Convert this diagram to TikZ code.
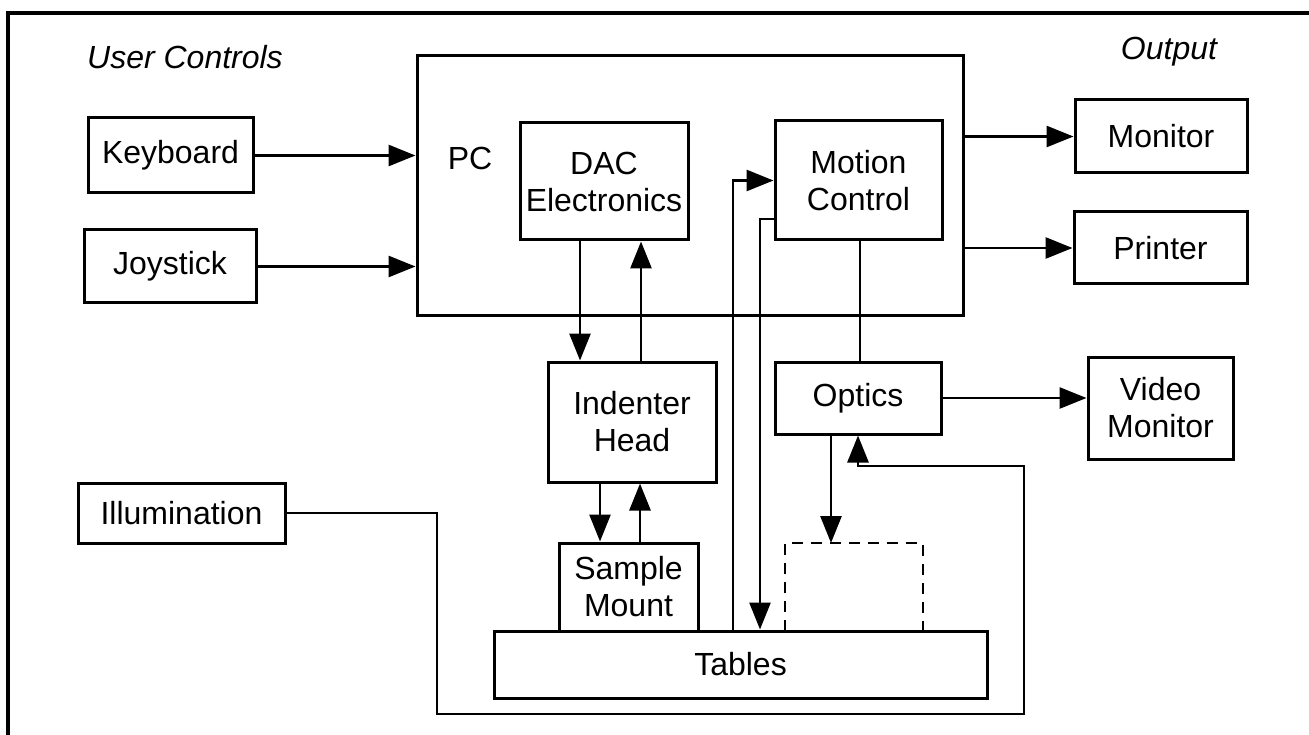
\documentclass[tikz,border=0pt]{standalone}
\usepackage{fontspec}
\setmainfont{Liberation Sans}
\usetikzlibrary{arrows.meta}
\newcommand\dfont{\fontsize{32}{37}\selectfont}
\tikzset{
  box/.style={draw, line width=3pt, inner sep=0pt, align=center, font=\dfont},
  arr/.style={line width=2.8pt, -{Triangle[length=27pt,width=21pt]}},
  ln/.style={line width=2.8pt},
  lbl/.style={font=\dfont\itshape, inner sep=0pt},
  plain/.style={font=\dfont, inner sep=0pt},
}
\begin{document}
\begin{tikzpicture}[x=1pt,y=-1pt]
\useasboundingbox (0,0) rectangle (1309,735);
% frame
\draw[line width=3.2pt] (8,735) -- (8,13) -- (1309,13);
% headings
\node[lbl] (uc) at (185,57) {User Controls};
\node[lbl] (out) at (1169,52) {Output};
% boxes
\node[box, minimum width=165pt, minimum height=75pt] (kb) at (170.5,155.5) {Keyboard};
\node[box, minimum width=172pt, minimum height=73pt] (js) at (170,266.5) {Joystick};
\node[box, minimum width=546pt, minimum height=260pt] (pc) at (690,186) {};
\node[plain] (pclabel) at (470,158) {PC};
\node[box, minimum width=168pt, minimum height=117pt] (dac) at (604,181.5) {DAC\\Electronics};
\node[box, minimum width=167pt, minimum height=119pt] (mc) at (858.5,180.5) {Motion\\Control};
\node[box, minimum width=172pt, minimum height=73pt] (mon) at (1161,136.5) {Monitor};
\node[box, minimum width=173pt, minimum height=72pt] (prn) at (1160.5,248) {Printer};
\node[box, minimum width=145pt, minimum height=102pt] (vmon) at (1160.5,408) {Video\\Monitor};
\node[box, minimum width=168pt, minimum height=120pt] (ih) at (632,422) {Indenter\\Head};
\node[box, minimum width=166pt, minimum height=72pt] (opt) at (858,398) {Optics};
\node[box, minimum width=139pt, minimum height=88pt] (sm) at (628.5,587) {Sample\\Mount};
\node[box, minimum width=493pt, minimum height=67pt] (tab) at (740.5,664.5) {Tables};
\node[box, minimum width=207pt, minimum height=60pt] (ill) at (181.5,513) {Illumination};
% dashed open box on the tables
\draw[ln, dash pattern=on 11pt off 8pt] (785,631) -- (785,543) -- (923,543) -- (923,631);
\coordinate (dtop) at (831,543);
% lane coordinates
\coordinate (xa) at (580,0);
\coordinate (xb) at (641,0);
\coordinate (xc) at (733,0);
\coordinate (xd) at (760,0);
\coordinate (xe) at (860,0);
\coordinate (xf) at (831,0);
\coordinate (xg) at (858,0);
\coordinate (xh) at (1024,0);
\coordinate (xi) at (437,0);
\coordinate (xj) at (600,0);
\coordinate (xk) at (640,0);
\coordinate (yb) at (0,219);
\coordinate (yc) at (0,466);
\coordinate (yd) at (0,714);
% connectors
\draw[arr] (kb.east) -- (kb.east -| pc.west);
\draw[arr] (js.east) -- (js.east -| pc.west);
\draw[arr] (pc.east |- mon.west) -- (mon.west);
\draw[arr] (pc.east |- prn.west) -- (prn.west);
\draw[arr] (opt.east) -- (opt.east -| vmon.west);
\draw[arr] (dac.south -| xa) -- (ih.north -| xa);
\draw[arr] (ih.north -| xb) -- (dac.south -| xb);
\draw[arr] (tab.north -| xc) |- (mc.west);
\draw[arr] (mc.west |- yb) -| (tab.north -| xd);
\draw[ln] (mc.south -| xe) -- (opt.north -| xe);
\draw[arr] (opt.south -| xf) -- (dtop);
\draw[arr] (ill.east) -| (xi |- yd) -| (xh |- yc) -| (opt.south -| xg);
\draw[arr] (ih.south -| xj) -- (sm.north -| xj);
\draw[arr] (sm.north -| xk) -- (ih.south -| xk);
\end{tikzpicture}
\end{document}
